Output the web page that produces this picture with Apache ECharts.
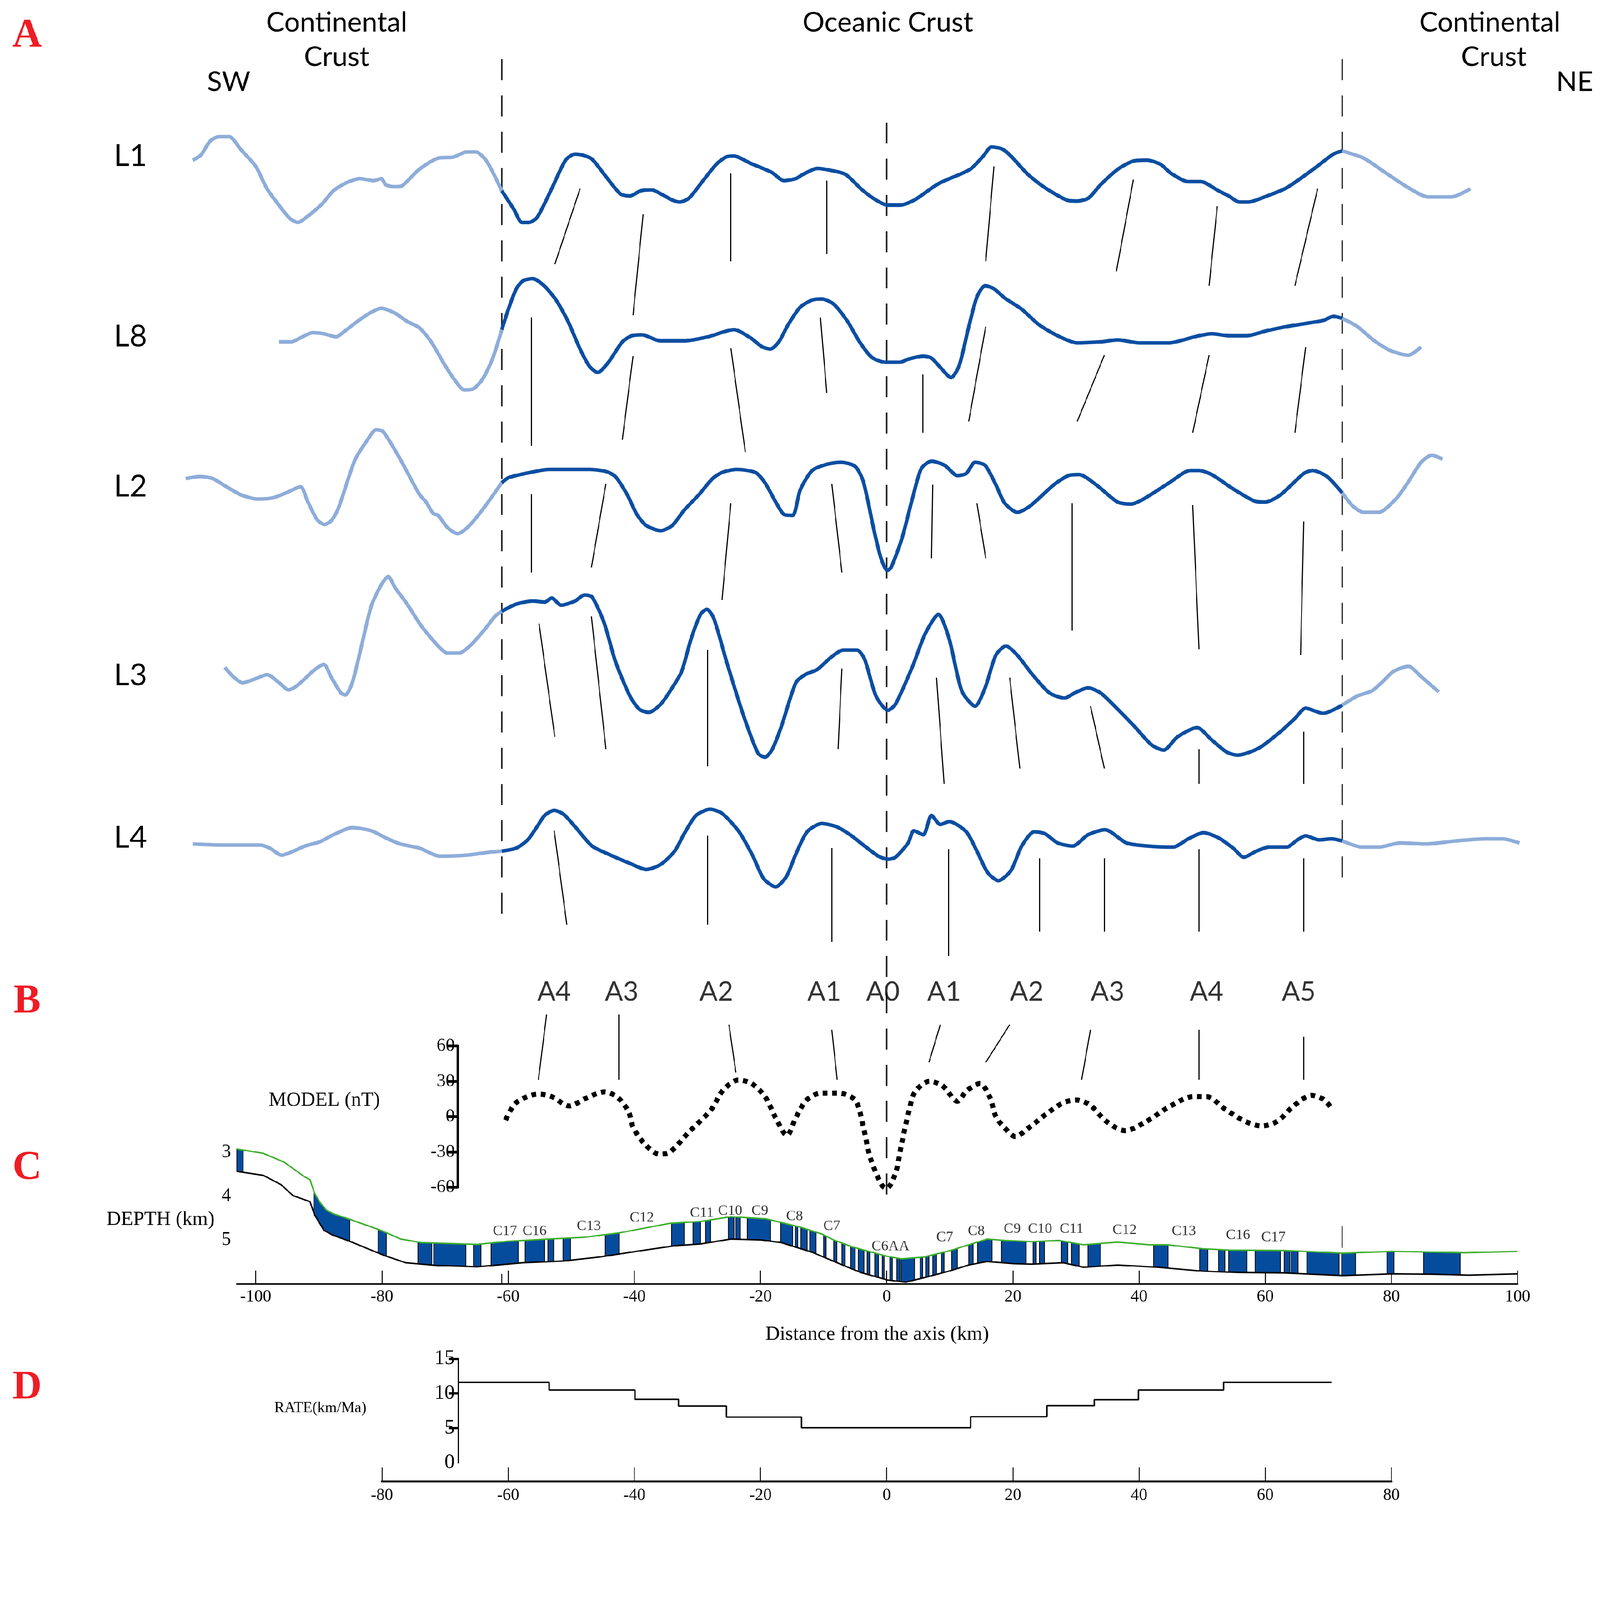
<!DOCTYPE html>
<html>
<head>
<meta charset="utf-8">
<script src="https://cdn.jsdelivr.net/npm/echarts@6.0.0/dist/echarts.min.js"></script>
<style>
html,body{margin:0;padding:0;background:#fff;overflow:hidden}
#chart{width:4415px;height:4168px;transform-origin:0 0}
</style>
</head>
<body>
<div id="chart"></div>
<script>
// magnetic profiles: [distance km, anomaly], light = continental part, dark = oceanic part
var L1_w=[[-110,23],[-108.7,28],[-107.2,42],[-105.8,46],[-104.2,46],[-102.3,33],[-100,17],[-98.3,-4],[-96.7,-18],[-94.6,-34],[-93.3,-38],[-92.2,-34],[-89.5,-20],[-87.7,-7],[-85.6,1],[-83.5,5],[-81.3,3],[-80.1,5],[-79.4,-1],[-78,-3],[-76.8,-2],[-74.1,14],[-71.1,25],[-68.7,26],[-66.6,31],[-65.1,31],[-63.4,22],[-61,-7]];
var L1_o=[[-61,-7],[-59.1,-25],[-57.8,-38],[-56.7,-38],[-55.4,-33],[-53.1,-5],[-50.9,23],[-49.4,29],[-48.2,28],[-46.7,24],[-44.5,7],[-42.2,-10],[-40.7,-12],[-39,-7],[-37.3,-6],[-35.5,-11],[-34,-16],[-32.8,-18],[-31.3,-14],[-29.1,3],[-27,19],[-25.5,26],[-24.2,27],[-21.6,20],[-18.2,11],[-16.3,3],[-14.4,5],[-13.3,9],[-11,15],[-8.8,13],[-6.5,9],[-3.9,-6],[-1.7,-16],[0.2,-21],[2.1,-21],[4.4,-16],[8.2,0],[13.2,14],[15.3,27],[16.6,36],[18.3,34],[19.7,27],[22.4,9],[25.1,-4],[28.5,-16],[30.2,-17],[32,-14],[33.9,-1],[36.6,14],[39,22],[41.2,23],[43.4,19],[45.1,10],[47.8,2],[49.8,2],[52.6,-7],[54.2,-12],[55.9,-18],[57.3,-18],[60.3,-12],[63.4,-4],[67.8,15],[70.8,29],[72.2,32]];
var L1_e=[[72.2,32],[75.6,25],[79,11],[82.7,-4],[85.8,-13],[89.5,-13],[92.5,-5]];

var L8_w=[[-96.3,-5],[-94.4,-5],[-92.9,-1],[-91,4],[-89.2,3],[-87.3,0],[-85.8,6],[-83.9,15],[-82,23],[-80.1,28],[-77.9,23],[-76,15],[-74.1,9],[-72.3,-4],[-70,-28],[-68.5,-42],[-67,-52],[-65.5,-51],[-64,-41],[-62.5,-22],[-61,7]];
var L8_o=[[-61,7],[-59.9,28],[-58.7,47],[-57.6,55],[-56.1,57],[-54.3,50],[-52.4,36],[-50.5,15],[-48.6,-12],[-47.1,-29],[-45.8,-35],[-44.1,-25],[-41.9,-5],[-40.4,1],[-38.8,2],[-35.9,-4],[-32.1,-4],[-28.3,0],[-24.2,7],[-21.6,-1],[-19.7,-10],[-18.4,-12],[-17.1,-5],[-15.6,12],[-13.7,29],[-11.8,36],[-10.3,37],[-8.4,32],[-6.2,15],[-4.3,-5],[-2.4,-20],[-0.2,-25],[2.1,-25],[3.4,-22],[5.8,-19],[7.1,-21],[8.5,-30],[10.2,-40],[11.5,-28],[12.9,7],[14.3,39],[15.6,50],[17,47],[18.7,38],[21.4,27],[24.1,12],[27.1,1],[30.2,-6],[33.9,-5],[36.6,-3],[40,-6],[44.8,-6],[48.8,0],[51.5,3],[54.3,1],[57,1],[60.3,6],[63.4,10],[66.4,13],[69.2,16],[70.8,20],[72.2,18]];
var L8_e=[[72.2,18],[74.6,10],[77.3,-4],[80,-14],[82.7,-18],[84.7,-10]];

var L2_w=[[-111.1,11],[-108.8,13],[-106.8,11],[-104.9,4],[-102.3,-5],[-99.7,-9],[-97.4,-8],[-95.2,-3],[-92.9,3],[-91.8,-11],[-90.3,-29],[-89.1,-34],[-88,-30],[-86.9,-18],[-84.3,29],[-82.4,48],[-80.9,59],[-79.8,57],[-77.1,30],[-74.1,-4],[-73,-12],[-71.9,-23],[-71.1,-25],[-69.6,-37],[-68,-43],[-66.3,-36],[-64,-19],[-61,7]];
var L2_o=[[-61,7],[-59.9,12],[-56.5,17],[-53.5,20],[-47.1,20],[-44.5,18],[-43,13],[-41.1,-5],[-39.6,-24],[-38.1,-35],[-35.8,-40],[-34,-35],[-32.1,-20],[-29.8,-5],[-27.6,11],[-26.1,17],[-23.8,20],[-20.8,17],[-19.3,7],[-17.4,-14],[-16.3,-24],[-14.9,-25],[-13.7,0],[-11.8,19],[-9.5,25],[-7.3,27],[-5,23],[-3.7,8],[-2,-40],[-0.9,-67],[0.1,-79],[0.7,-76],[2.4,-48],[4.1,-8],[5.5,21],[7.1,28],[9.2,24],[11.2,14],[12.6,16],[14,27],[15.6,24],[17.3,5],[18.7,-13],[20.7,-22],[22.7,-16],[26.5,5],[28.8,14],[30.5,15],[33.2,5],[36.6,-12],[38.7,-14],[40.7,-9],[44.8,7],[48.1,19],[49.5,19],[51.5,15],[54.9,1],[58.3,-11],[60,-12],[62.4,-5],[66.1,16],[67.5,19],[69.8,13],[72.2,-3]];
var L2_e=[[72.2,-3],[73.9,-16],[75.6,-22],[78,-22],[80.7,-9],[82.7,8],[84.7,27],[86.4,34],[88.1,30]];

var L3_w=[[-104.9,6],[-103.4,-4],[-102.1,-9],[-100,-5],[-98.2,-1],[-96.3,-9],[-94.8,-16],[-93.7,-13],[-92.2,-5],[-91,2],[-89.9,7],[-89.2,9],[-88,-4],[-86.5,-19],[-85.8,-21],[-84.7,-9],[-83.2,28],[-81.7,66],[-80.1,87],[-79,95],[-77.9,84],[-76,68],[-73.8,47],[-71.1,27],[-69.6,20],[-67.8,20],[-65.9,28],[-63.6,44],[-62.1,56],[-61,61]];
var L3_o=[[-61,61],[-58.7,68],[-56.1,71],[-54.2,70],[-53.1,74],[-51.6,67],[-49.4,71],[-47.9,77],[-46.7,75],[-44.8,50],[-43,12],[-40.7,-22],[-39.2,-35],[-37.7,-38],[-35.8,-30],[-34,-14],[-32.5,2],[-31,34],[-29.5,58],[-28.5,63],[-27.4,54],[-25.3,10],[-22.7,-41],[-20.4,-78],[-19.3,-82],[-18.2,-75],[-16.7,-52],[-14.4,-9],[-12.9,-1],[-11,4],[-8.8,16],[-6.9,23],[-4.7,23],[-3.5,14],[-1.7,-22],[0.2,-36],[1.4,-30],[4.1,7],[6.1,39],[8.2,58],[9.9,34],[11.9,-17],[14,-32],[15.6,-14],[17.3,18],[18.9,27],[20.7,18],[23.1,-1],[25.8,-19],[28.2,-24],[29.8,-19],[31.9,-14],[33.9,-19],[36.3,-33],[39.3,-52],[42,-70],[43.9,-75],[46.1,-62],[49.2,-53],[51.5,-65],[53.9,-77],[55.6,-80],[59,-73],[62.4,-57],[64.7,-44],[66.4,-34],[69.2,-39],[72.2,-31]];
var L3_e=[[72.2,-31],[74.6,-22],[76.9,-17],[78.6,-8],[80.3,2],[82.7,7],[84.7,-3],[87.5,-18]];

var L4_w=[[-110,-2],[-105.7,-3],[-102.7,-3],[-99.3,-3],[-97.8,-6],[-95.9,-13],[-94,-9],[-92.2,-4],[-89.9,0],[-87.7,7],[-84.7,14],[-81.7,11],[-79.4,4],[-77.1,-2],[-74.1,-6],[-70.8,-14],[-66.6,-13],[-62.9,-10],[-61,-9]];
var L4_o=[[-61,-9],[-58.7,-6],[-56.9,2],[-55.4,15],[-54.2,26],[-52.7,31],[-51.2,27],[-49.4,15],[-46.7,-4],[-44.1,-12],[-40.7,-21],[-38.1,-27],[-35.8,-22],[-33.6,-9],[-32.1,8],[-30.2,26],[-28,32],[-26.1,28],[-23.4,10],[-21.2,-14],[-19.5,-36],[-17.6,-44],[-15.9,-34],[-14.4,-12],[-12.6,10],[-10.3,18],[-8,15],[-5.8,7],[-3.5,-4],[-1.3,-14],[0.2,-17],[1.4,-15],[3.4,-1],[4.3,11],[5.8,7],[7.1,26],[8.5,17],[9.9,20],[12.6,10],[14.3,-9],[16,-30],[17.7,-38],[19.7,-28],[21.4,-4],[23.4,10],[25.1,8],[27.1,-1],[29.5,-4],[31.9,7],[34.6,12],[38,-1],[41.4,-4],[45.4,-5],[47.8,3],[50.2,9],[52.6,4],[54.9,-6],[56.6,-15],[58.6,-9],[60.7,-5],[63.4,-5],[65.1,2],[66.4,6],[68.5,2],[70.5,3],[72.2,1]];
var L4_e=[[72.2,1],[75.3,-5],[78,-5],[81.4,-1],[85.4,-2],[90.2,1],[94.9,3],[97.6,3],[100.3,-1]];

var profileNames=['L1','L8','L2','L3','L4'];
var boundaryKm=[-61.0,0,72.2];

// correlation ties between profiles: [km1, level1, km2, level2]
var ties=[
[-48.6,185,-52.6,259],[-38.6,210,-40.2,309],[-24.7,170,-24.7,256],[-9.5,177,-9.5,249],
[17.0,163,15.7,256],[39.1,176,36.4,266],[52.4,202,51.1,280],[68.3,185,64.7,280],
[-56.3,311,-56.3,437],[-40.2,349,-41.9,431],[-24.7,341,-22.4,443],[-10.5,311,-9.5,385],[5.7,367,5.7,424],[15.7,320,13.0,413],[34.5,348,30.2,413],[51.1,348,48.5,424],[66.4,340,64.7,424],
[-56.3,484,-56.3,561],[-44.5,474,-46.8,556],[-24.7,493,-26.1,588],[-8.7,474,-7.1,561],[7.3,475,7.1,547],[14.3,493,15.7,547],[29.4,493,29.4,618],[48.5,495,49.5,636],[66.1,511,65.6,642],
[-55.1,611,-52.6,722],[-46.8,604,-44.5,734],[-28.4,637,-28.4,751],[-7.1,655,-7.7,734],[7.9,664,9.1,768],[19.5,664,21.1,753],[32.3,692,34.5,753],[49.5,734,49.5,768],[66.1,717,66.1,768],
[-52.7,814,-50.7,906],[-28.4,819,-28.4,906],[-8.7,831,-8.7,923],[9.8,832,9.8,937],[24.2,841,24.2,913],[34.5,841,34.5,913],[49.5,832,49.5,913],[66.1,841,66.1,913],
[-53.9,994,-55.2,1058],[-42.5,994,-42.5,1058],[-25.0,1004,-23.9,1051],[-8.7,1009,-7.85,1058],[8.5,1004,6.7,1041],[19.5,1004,15.7,1041],[32.3,1009,30.9,1058],[49.5,1009,49.5,1058],[66.1,1016,66.1,1058]
];

var anomalyNames=['A4','A3','A2','A1','A0','A1','A2','A3','A4','A5'];
var anomalyKm=[-52.7,-42.0,-27.0,-9.9,-0.6,9.1,22.2,35.0,50.7,65.3];

// model anomaly (nT)
var modelKm=[-60.4,-58.7,-55.2,-53.1,-50.3,-47.5,-44.7,-42.6,-40.9,-40.2,-38.4,-36.0,-34.3,-31.5,-27.8,-26.0,-23.5,-21.4,-19.3,-17.6,-15.8,-14.4,-12.7,-10.3,-7.8,-5.0,-3.7,-2.6,-0.8,0,1.4,2.4,3.5,4.5,6.8,8.9,11.2,12.7,14.8,16.3,17.3,18.6,20.4,22.4,25.5,28.1,30.1,32.2,34.8,37.8,40.9,45.0,48.6,50.7,53.7,56.8,59.4,61.9,64.5,67.3,69.1,70.4];
var modelNT=[-3,12,19,17,9,16,21,16,4,-9,-23,-32,-30,-14,6,22,31,28,17,-1,-16,-1,14,20,20,14,-9,-35,-58,-61,-48,-22,4,21,30,26,13,22,28,17,0,-9,-17,-10,3,12,14,10,-4,-12,-5,9,17,17,6,-4,-8,-4,9,18,15,8];

// magnetised layer: top (basement) and bottom depth, km
var topKm=[-103,-98.8,-95.5,-92.3,-91.4,-90.7,-89.8,-88.8,-87.8,-85.1,-80.2,-77,-73.8,-64.9,-60.1,-53.7,-48,-42.4,-34.3,-29.5,-24.7,-19.1,-13.4,-10.2,-8.4,-5.4,0,2.3,5.9,10.1,15.9,18.7,23,27.3,31.2,36.6,41.6,44.4,50.1,54.4,63,72.3,80.1,84.4,91.6,100];
var topDepth=[2.93,3.03,3.23,3.56,3.63,3.93,4.15,4.32,4.40,4.53,4.78,4.98,5.06,5.10,5.03,4.98,4.94,4.84,4.62,4.58,4.47,4.52,4.72,4.87,5.0,5.16,5.37,5.43,5.39,5.24,4.98,5.01,5.04,5.01,5.11,5.05,5.11,5.11,5.20,5.23,5.24,5.30,5.26,5.27,5.29,5.26];
var botKm=[-103,-98.8,-96,-94.1,-91.4,-90.7,-89.2,-87.8,-85.1,-81.9,-79.5,-76.2,-71.4,-64.9,-61.7,-57.7,-51.3,-45.6,-39.2,-33.5,-29.5,-24.7,-19.9,-16.7,-11.8,-7,-4.1,0.1,3,5.9,10.1,13,15.9,20.2,23,28,31.2,36.6,43,50.1,55.9,63,72.3,80.1,86.6,92.3,100];
var botDepth=[3.44,3.53,3.74,3.99,4.13,4.42,4.78,4.89,5.03,5.22,5.36,5.52,5.58,5.61,5.57,5.52,5.48,5.39,5.25,5.13,5.09,4.98,5.00,5.06,5.28,5.57,5.74,5.91,5.96,5.86,5.70,5.57,5.49,5.54,5.55,5.52,5.62,5.57,5.62,5.71,5.74,5.75,5.81,5.77,5.78,5.80,5.77];

// normal polarity blocks [from km, to km]
var blocks=[[-103,-102],[-90.8,-85.1],[-80.6,-79.3],[-74.3,-72.1],[-71.8,-66.7],[-65.5,-64.3],[-62.7,-58.4],[-57.3,-54.2],[-53.7,-52.8],[-51.3,-50.1],[-44.6,-42.4],[-34.1,-32.1],[-30.7,-29.5],[-28.7,-27.9],[-25.1,-24.2],[-23.9,-23.2],[-22.1,-18.4],[-16.8,-14.9],[-14.5,-14.1],[-13.6,-12.6],[-12.2,-11.2],[-10.0,-9.6],
[-8.4,-7.9],[-7.1,-6.6],[-5.7,-5.0],[-4.5,-3.6],[-3.1,-2.7],[-1.9,-1.3],[-0.7,-0.4],[0.5,0.9],[1.6,2.1],[2.3,4.4],[5.3,5.7],[6.2,6.7],[7.3,7.9],[8.7,9.1],
[10.3,11.2],[13.0,13.7],[14.4,16.7],[18.2,22.1],[23.2,23.7],[24.2,25.0],[27.7,28.7],[29.3,30.5],[31.9,33.9],[42.3,44.6],[49.6,50.9],[52.6,53.6],[54.2,57.1],[58.4,62.4],[63.0,63.9],[64.1,65.2],[66.6,71.7],[72.1,74.3],[79.3,80.4],[85.1,90.9]];

var chronNames=['C17','C16','C13','C12','C11','C10','C9','C8','C7','C6AA','C7','C8','C9','C10','C11','C12','C13','C16','C17'];
var chronKm=[-60.5,-55.8,-47.2,-38.8,-29.3,-24.8,-20.1,-14.6,-8.7,0.6,9.2,14.2,19.9,24.3,29.3,37.7,47.1,55.7,61.3];
var chronDepth=[4.80,4.80,4.69,4.50,4.39,4.34,4.34,4.46,4.69,5.15,4.94,4.80,4.75,4.75,4.75,4.78,4.80,4.89,4.94];

// spreading rate (km/Ma), each value holds from its km to the next
var rateKm=[-67.9,-53.5,-39.9,-33,-25.4,-13.5,13.3,25.4,32.9,39.9,53.4,70.5];
var rateVal=[11.6,10.5,9.15,8.2,6.6,5.05,6.65,8.25,9.1,10.5,11.6,11.6];

var kmTicks=[-100,-80,-60,-40,-20,0,20,40,60,80,100];

// layout (design space 4415 x 4168)
var W=4415, H=4168;
var X0=2446.7, KX=17.41, SC=2.816;
var profileBase=[180,330,480,660,825];
function gx(km){return X0+KX*km;}

var DARK='#0b4ea2', LIGHT='#8eadd9', BLUE='#064c9d', GREEN='#3dae2b', RED='#ee1c24';
var SERIF='"Liberation Serif", "Times New Roman", serif';

function interp(xs,ys,x){
	if(x<=xs[0]) return ys[0];
	for(var i=1;i<xs.length;i++){
		if(x<=xs[i]){
			var t=(x-xs[i-1])/(xs[i]-xs[i-1]);
			return ys[i-1]+t*(ys[i]-ys[i-1]);
		}
	}
	return ys[ys.length-1];
}
function zip(a,b){return a.map(function(v,i){return [v,b[i]];});}

var series=[];
var profileData=[[L1_w,L1_o,L1_e],[L8_w,L8_o,L8_e],[L2_w,L2_o,L2_e],[L3_w,L3_o,L3_e],[L4_w,L4_o,L4_e]];
profileData.forEach(function(parts,i){
	parts.forEach(function(arr,j){
		series.push({
			type:'line',xAxisIndex:0,yAxisIndex:0,showSymbol:false,silent:true,smooth:0.25,
			data:arr.map(function(p){return [p[0],profileBase[i]-p[1]];}),
			lineStyle:{color:j==1?DARK:LIGHT,width:10,join:'round'},z:3
		});
	});
});

var boundaryTop=[58,120,58], boundaryBottom=[900,1177,868];
boundaryKm.forEach(function(km,i){
	series.push({
		type:'line',xAxisIndex:0,yAxisIndex:0,showSymbol:false,silent:true,
		data:[[km,boundaryTop[i]],[km,boundaryBottom[i]]],
		lineStyle:{color:'#1a1a1a',width:4,type:[58,42]},z:2
	});
});

series.push({
	type:'lines',coordinateSystem:'cartesian2d',xAxisIndex:0,yAxisIndex:0,silent:true,
	data:ties.map(function(t){return {coords:[[t[0],t[1]],[t[2],t[3]]]};}),
	lineStyle:{color:'#000',width:3,opacity:1},z:2
});

series.push({
	type:'scatter',xAxisIndex:0,yAxisIndex:0,symbolSize:1,silent:true,
	itemStyle:{color:'rgba(0,0,0,0)'},
	data:anomalyKm.map(function(k,i){return {name:anomalyNames[i],value:[k,972]};}),
	label:{show:true,position:'inside',formatter:'{b}',color:'#000',fontFamily:'Lato',fontSize:74},z:4
});

series.push({
	type:'line',xAxisIndex:1,yAxisIndex:1,showSymbol:false,silent:true,smooth:0.3,
	data:zip(modelKm,modelNT),
	lineStyle:{color:'#000',width:14,type:[13,13],cap:'butt'},z:3
});

series.push({
	type:'custom',xAxisIndex:2,yAxisIndex:2,silent:true,
	data:blocks,
	renderItem:function(params,api){
		var s=api.value(0),e=api.value(1),pts=[],i;
		pts.push([s,interp(topKm,topDepth,s)]);
		for(i=0;i<topKm.length;i++){ if(topKm[i]>s&&topKm[i]<e) pts.push([topKm[i],topDepth[i]]); }
		pts.push([e,interp(topKm,topDepth,e)]);
		pts.push([e,interp(botKm,botDepth,e)]);
		for(i=botKm.length-1;i>=0;i--){ if(botKm[i]>s&&botKm[i]<e) pts.push([botKm[i],botDepth[i]]); }
		pts.push([s,interp(botKm,botDepth,s)]);
		return {type:'polygon',shape:{points:pts.map(function(p){return api.coord(p);})},
			style:{fill:BLUE,stroke:'#000',lineWidth:2}};
	},z:2
});
series.push({type:'line',xAxisIndex:2,yAxisIndex:2,showSymbol:false,silent:true,data:zip(botKm,botDepth),lineStyle:{color:'#000',width:4},z:3});
series.push({type:'line',xAxisIndex:2,yAxisIndex:2,showSymbol:false,silent:true,data:zip(topKm,topDepth),lineStyle:{color:GREEN,width:4},z:4});
series.push({
	type:'lines',coordinateSystem:'cartesian2d',xAxisIndex:2,yAxisIndex:2,silent:true,
	data:[{coords:[[72.2,4.68],[72.2,5.18]]},{coords:[[-61,5.77],[-61,6.03]]}],
	lineStyle:{color:'#000',width:2.5,opacity:1},z:4
});
series.push({
	type:'scatter',xAxisIndex:2,yAxisIndex:2,symbolSize:1,silent:true,
	itemStyle:{color:'rgba(0,0,0,0)'},
	data:chronKm.map(function(k,i){return {name:chronNames[i],value:[k,chronDepth[i]]};}),
	label:{show:true,position:'inside',formatter:'{b}',color:'#000',fontFamily:SERIF,fontSize:40},z:5
});

series.push({
	type:'line',xAxisIndex:3,yAxisIndex:3,showSymbol:false,silent:true,step:'end',
	data:zip(rateKm,rateVal),
	lineStyle:{color:'#000',width:4},z:3
});

function txt(s,x,y,font,fill){
	return {type:'text',x:x,y:y,silent:true,
		style:{text:s,font:font,fill:fill||'#000',textAlign:'center',textVerticalAlign:'middle',align:'center',verticalAlign:'middle'}};
}
var HEAD='76px Lato', LAB='84px Lato', LET='bold 112px '+SERIF;
var graphics=[
	txt('Continental',929,62,HEAD),txt('Crust',929,157,HEAD),
	txt('Oceanic Crust',2450,62,HEAD),
	txt('Continental',4111,62,HEAD),txt('Crust',4122,157,HEAD),
	txt('SW',631,226,HEAD),txt('NE',4345,226,HEAD),
	txt('A',75,100,LET,RED),txt('B',75,2765,LET,RED),txt('C',75,3224,LET,RED),txt('D',75,3830,LET,RED),
	txt('MODEL (nT)',895,3037,'55px '+SERIF),
	txt('DEPTH (km)',443,3366,'55px '+SERIF),
	txt('RATE(km/Ma)',884,3886,'42px '+SERIF)
];
var labelY=[431,929,1343,1864,2312];
profileNames.forEach(function(n,i){graphics.push(txt(n,360,labelY[i],LAB));});

var hidden={show:false};
var option={
	backgroundColor:'#fff',
	animation:false,
	grid:[
		{left:gx(-112),top:0,width:KX*214,height:1180*SC,outerBoundsMode:'none'},
		{left:gx(-68),top:2886,width:KX*168,height:390,outerBoundsMode:'none'},
		{left:gx(-103),top:3166.8,width:KX*203,height:376,outerBoundsMode:'none'},
		{left:gx(-80),top:3749.3,width:KX*160,height:338.3,outerBoundsMode:'none'},
		{left:gx(-67.9),top:3749.3,width:200,height:287.3,outerBoundsMode:'none'}
	],
	xAxis:[
		{gridIndex:0,type:'value',min:-112,max:102,show:false},
		{gridIndex:1,type:'value',min:-68,max:100,show:false},
		{gridIndex:2,type:'value',min:-103,max:100,
			axisLine:{onZero:false,lineStyle:{color:'#000',width:4}},
			axisTick:{inside:true,length:37,customValues:kmTicks,lineStyle:{color:'#000',width:2.7}},
			axisLabel:{customValues:kmTicks,color:'#000',fontFamily:SERIF,fontSize:47,margin:12},
			splitLine:hidden,
			name:'Distance from the axis (km)',nameLocation:'middle',nameGap:112,
			nameTextStyle:{color:'#000',fontFamily:SERIF,fontSize:55}},
		{gridIndex:3,type:'value',min:-80,max:80,interval:20,
			axisLine:{onZero:false,lineStyle:{color:'#000',width:6}},
			axisTick:{inside:true,length:38,lineStyle:{color:'#000',width:2.5}},
			axisLabel:{color:'#000',fontFamily:SERIF,fontSize:46,margin:16},
			splitLine:hidden},
		{gridIndex:4,type:'value',min:0,max:1,show:false}
	],
	yAxis:[
		{gridIndex:0,type:'value',min:0,max:1180,inverse:true,show:false},
		{gridIndex:1,type:'value',min:-60,max:60,interval:30,
			axisLine:{show:true,onZero:false,lineStyle:{color:'#000',width:7}},
			axisTick:{show:true,length:28,lineStyle:{color:'#000',width:8}},
			axisLabel:{color:'#000',fontFamily:SERIF,fontSize:50,margin:8},
			splitLine:hidden},
		{gridIndex:2,type:'value',min:2.9,max:6,inverse:true,
			axisLine:hidden,axisTick:hidden,
			axisLabel:{customValues:[3,4,5],color:'#000',fontFamily:SERIF,fontSize:52,margin:16},
			splitLine:hidden},
		{gridIndex:3,type:'value',min:-2.66,max:15,show:false},
		{gridIndex:4,type:'value',min:0,max:15,interval:5,
			axisLine:{show:true,onZero:false,lineStyle:{color:'#000',width:4}},
			axisTick:{show:true,length:26,customValues:[5,10,15],lineStyle:{color:'#000',width:6}},
			axisLabel:{color:'#000',fontFamily:SERIF,fontSize:56,margin:10},
			splitLine:hidden}
	],
	graphic:graphics,
	series:series
};

// fit the design-size chart into whatever viewport the page gets
var box=document.getElementById('chart');
var fit=Math.min(window.innerWidth/W, window.innerHeight/H);
if(fit>0&&fit<1) box.style.transform='scale('+fit+')';

var myChart=echarts.init(box);
myChart.setOption(option);
</script>
</body>
</html>
